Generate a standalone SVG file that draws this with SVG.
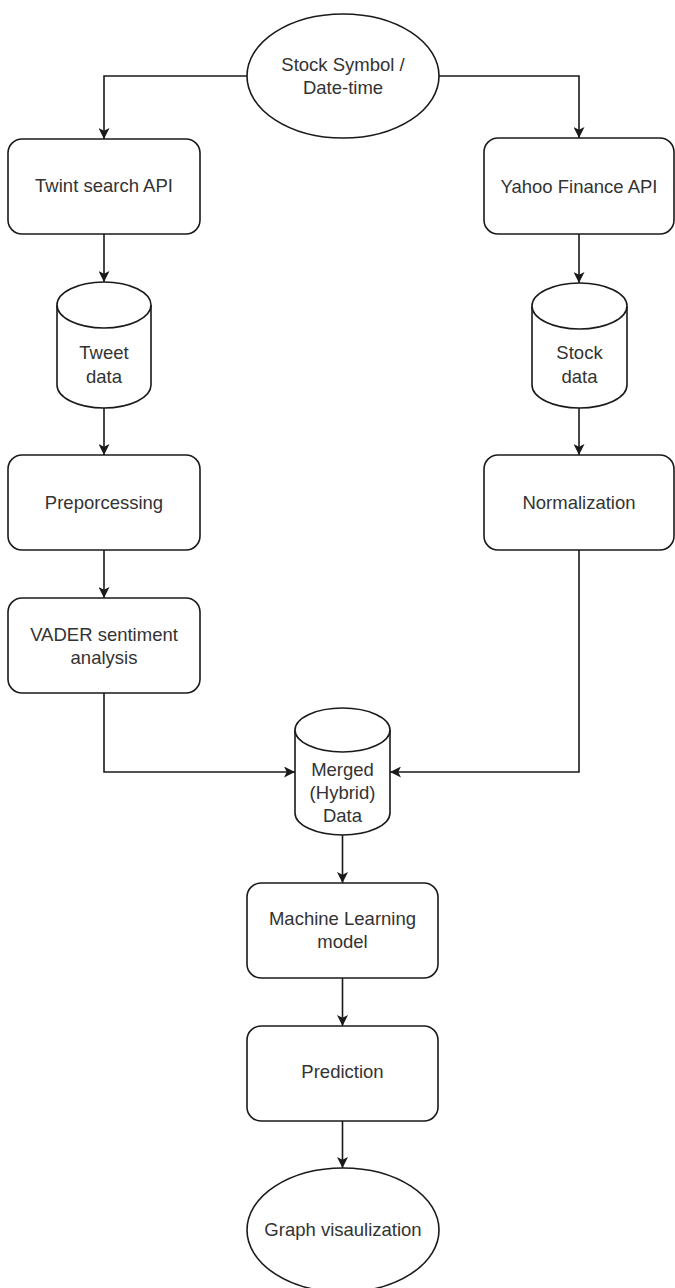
<svg xmlns="http://www.w3.org/2000/svg" width="675" height="1288" viewBox="0 0 675 1288">
<defs>
<style>
.n{fill:#fff;stroke:#1a1a1a;stroke-width:1.6}
.t{font-family:"Liberation Sans",Arial,sans-serif;font-size:18.5px;fill:#333;text-anchor:middle}
.c{fill:none;stroke:#1a1a1a;stroke-width:1.6}
</style>
<marker id="arr" viewBox="0 0 10 10" refX="10" refY="5" markerWidth="11" markerHeight="11" markerUnits="userSpaceOnUse" orient="auto">
<path d="M0,0 L10,5 L0,10 L2.5,5 z" fill="#1a1a1a"/>
</marker>
</defs>
<rect width="675" height="1288" fill="#fff"/>
<g id="connectors">
<path class="c" d="M247,76 H104 V139" marker-end="url(#arr)"/>
<path class="c" d="M439,76 H579 V138" marker-end="url(#arr)"/>
<path class="c" d="M104,234 V282" marker-end="url(#arr)"/>
<path class="c" d="M579,234 V283" marker-end="url(#arr)"/>
<path class="c" d="M104,408 V455" marker-end="url(#arr)"/>
<path class="c" d="M579,408 V455" marker-end="url(#arr)"/>
<path class="c" d="M104,550 V598" marker-end="url(#arr)"/>
<path class="c" d="M104,693 V772 H295" marker-end="url(#arr)"/>
<path class="c" d="M579,550 V772 H390" marker-end="url(#arr)"/>
<path class="c" d="M342.5,835 V883" marker-end="url(#arr)"/>
<path class="c" d="M342.5,978 V1026" marker-end="url(#arr)"/>
<path class="c" d="M342.5,1121 V1168" marker-end="url(#arr)"/>
</g>
<g id="start">
<ellipse class="n" cx="343" cy="76" rx="96" ry="62"/>
<text class="t" x="343" y="71">Stock Symbol /</text>
<text class="t" x="343" y="94">Date-time</text>
</g>
<g id="twint">
<rect class="n" x="8" y="139" width="192" height="95" rx="14"/>
<text class="t" x="104" y="192">Twint search API</text>
</g>
<g id="yahoo">
<rect class="n" x="484" y="138" width="190" height="96" rx="14"/>
<text class="t" x="579" y="193">Yahoo Finance API</text>
</g>
<g id="tweetdata">
<path class="n" d="M57,305 V385 A47,23 0 0 0 151,385 V305"/>
<ellipse class="n" cx="104" cy="305" rx="47" ry="23"/>
<text class="t" x="104" y="359">Tweet</text>
<text class="t" x="104" y="383">data</text>
</g>
<g id="stockdata">
<path class="n" d="M532,306 V385 A47.5,23 0 0 0 627,385 V306"/>
<ellipse class="n" cx="579.5" cy="306" rx="47.5" ry="23"/>
<text class="t" x="579.5" y="359">Stock</text>
<text class="t" x="579.5" y="383">data</text>
</g>
<g id="preprocessing">
<rect class="n" x="8" y="455" width="192" height="95" rx="14"/>
<text class="t" x="104" y="509">Preporcessing</text>
</g>
<g id="normalization">
<rect class="n" x="484" y="455" width="190" height="95" rx="14"/>
<text class="t" x="579" y="509">Normalization</text>
</g>
<g id="vader">
<rect class="n" x="8" y="598" width="192" height="95" rx="14"/>
<text class="t" x="104" y="641">VADER sentiment</text>
<text class="t" x="104" y="664">analysis</text>
</g>
<g id="merged">
<path class="n" d="M295,730 V813 A47.5,22 0 0 0 390,813 V730"/>
<ellipse class="n" cx="342.5" cy="730" rx="47.5" ry="22"/>
<text class="t" x="342.5" y="776">Merged</text>
<text class="t" x="342.5" y="799">(Hybrid)</text>
<text class="t" x="342.5" y="822">Data</text>
</g>
<g id="ml">
<rect class="n" x="247" y="883" width="191" height="95" rx="14"/>
<text class="t" x="342.5" y="925">Machine Learning</text>
<text class="t" x="342.5" y="948">model</text>
</g>
<g id="prediction">
<rect class="n" x="247" y="1026" width="191" height="95" rx="14"/>
<text class="t" x="342.5" y="1078">Prediction</text>
</g>
<g id="graph">
<ellipse class="n" cx="343" cy="1230" rx="96" ry="62"/>
<text class="t" x="343" y="1236">Graph visaulization</text>
</g>
</svg>
